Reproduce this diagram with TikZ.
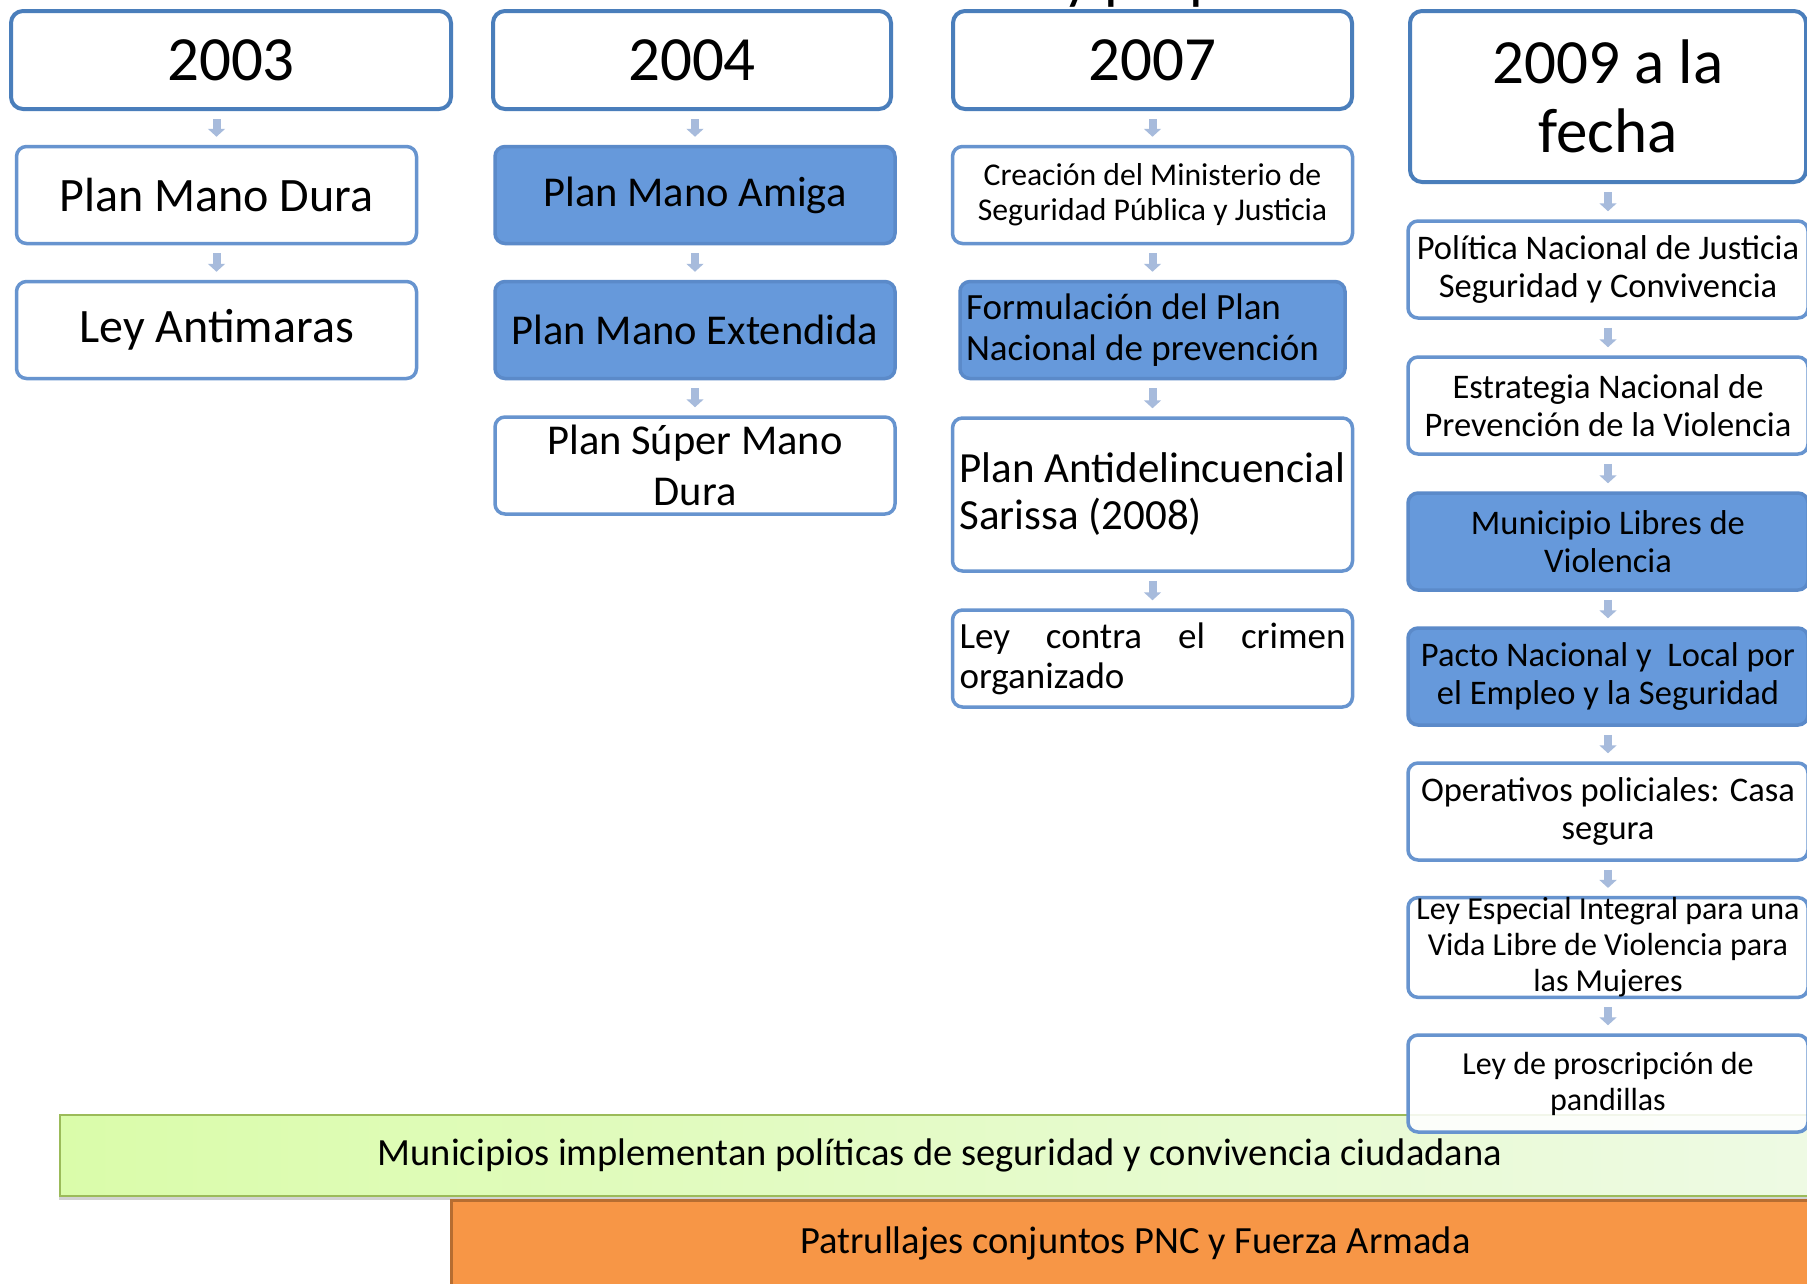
\documentclass[tikz,border=0pt]{standalone}
\usepackage{fontspec}
\setmainfont{Carlito}
\usetikzlibrary{arrows.meta,shadows}
\definecolor{anioborde}{HTML}{4A7EBB}
\definecolor{cajaborde}{HTML}{6794CF}
\definecolor{azul}{HTML}{6699DB}
\definecolor{azulborde}{HTML}{5B8AC9}
\definecolor{flechagris}{HTML}{A7BBDC}
\definecolor{verdeizq}{HTML}{DAFCAA}
\definecolor{verdeder}{HTML}{EEFAE4}
\definecolor{verdeborde}{HTML}{9BBB59}
\definecolor{naranja}{HTML}{F79646}
\definecolor{naranjaborde}{HTML}{B66D31}
\newcommand{\tam}[2]{\fontsize{#1}{#2}\selectfont}
\tikzset{
	anio/.style={draw=anioborde, line width=4pt, rounded corners=12pt, fill=white, align=center, inner sep=0pt, font=\tam{63}{69}},
	caja/.style={draw=cajaborde, line width=3.5pt, rounded corners=10pt, fill=white, align=center, inner sep=0pt, minimum width=400pt, minimum height=97pt},
	cajaazul/.style={caja, fill=azul, draw=azulborde},
	flecha/.style={draw=flechagris, line width=8pt, -{Triangle[width=17pt,length=8pt]}, shorten <=8pt, shorten >=8pt},
}

\begin{document}
\begin{tikzpicture}[x=1pt,y=-1pt]
	%%%%% START %%%%%
	\useasboundingbox (0,0) rectangle (1807,1283);
	\fill[white] (0,0) rectangle (1807,1283);
	
	% titulo cortado arriba
	\node[anchor=base west, inner sep=0pt, font=\tam{61}{61}] (titulo) at (1063,-3) {y prop};
	
	% barras de abajo
	\node[draw=verdeborde, line width=2pt, left color=verdeizq, right color=verdeder, minimum width=1760pt, minimum height=81pt, anchor=north west, font=\tam{38.5}{42}, drop shadow={shadow xshift=-1pt, shadow yshift=-4pt, opacity=0.35}] (municipios) at (59,1114) {Municipios implementan políticas de seguridad y convivencia ciudadana};
	\node[draw=naranjaborde, line width=3pt, fill=naranja, minimum width=1368pt, minimum height=86pt, anchor=north west, font=\tam{38.5}{42}] (patrullajes) at (450,1199) {Patrullajes conjuntos PNC y Fuerza Armada};
	
	% 2003
	\node[anio, minimum width=440pt, minimum height=98pt] (anio03) at (231,60) {2003};
	\node[caja, font=\tam{48}{52}] (dura) at (216.5,195) {Plan Mano Dura};
	\node[caja, font=\tam{48}{52}] (antimaras) at (216.5,330) {Ley Antimaras};
	
	% 2004
	\node[anio, minimum width=398pt, minimum height=98pt] (anio04) at (692,60) {2004};
	\node[cajaazul, font=\tam{42.5}{48}] (amiga) at (695,195) {Plan Mano Amiga};
	\node[cajaazul, font=\tam{42.5}{48}] (extendida) at (695,330) {Plan Mano Extendida};
	\node[caja, font=\tam{42.5}{51}] (superdura) at (695,465.5) {Plan Súper Mano\\Dura};
	
	% 2007
	\node[anio, minimum width=399pt, minimum height=98pt] (anio07) at (1152.5,60) {2007};
	\node[caja, font=\tam{31.7}{35}] (ministerio) at (1152.5,195) {Creación del Ministerio de\\Seguridad Pública y Justicia};
	\node[cajaazul, minimum width=385pt, align=flush left, text width=373pt, font=\tam{37}{41}] (formulacion) at (1152.5,330) {Formulación del Plan\\Nacional de prevención};
	\node[caja, minimum height=153pt, align=flush left, text width=386pt, font=\tam{43}{47}] (sarissa) at (1152.5,494.5) {Plan Antidelincuencial\\Sarissa (2008)};
	\node[caja, align=flush left, text width=386pt, font=\tam{37}{40}] (crimen) at (1152.5,658.5) {\makebox[386pt][s]{Ley contra el crimen}\\organizado};
	
	% 2009 a la fecha
	\node[anio, minimum width=396pt, minimum height=171pt] (anio09) at (1608,96.5) {2009 a la\\fecha};
	\node[caja, font=\tam{34.5}{38}] (politica) at (1608,269.5) {Política Nacional de Justicia\\Seguridad y Convivencia};
	\node[caja, font=\tam{34.5}{38}] (estrategia) at (1608,405.5) {Estrategia Nacional de\\Prevención de la Violencia};
	\node[cajaazul, font=\tam{34.5}{38}] (municipio) at (1608,541.5) {Municipio Libres de\\Violencia};
	\node[cajaazul, font=\tam{34.5}{38}] (pacto) at (1608,676.5) {Pacto Nacional y\ \ Local por\\el Empleo y la Seguridad};
	\node[caja, font=\tam{34.5}{38}] (operativos) at (1608,811.5) {Operativos policiales: Casa\\segura};
	\node[caja, font=\tam{32}{36}] (mujeres) at (1608,947.5) {Ley Especial Integral para una\\Vida Libre de Violencia para\\las Mujeres};
	\node[caja, fill opacity=0.88, text opacity=1, font=\tam{32}{36}] (pandillas) at (1608,1083.5) {Ley de proscripción de\\pandillas};
	
	% flechas
	\foreach \a/\b in {anio03/dura, dura/antimaras, anio04/amiga, amiga/extendida, extendida/superdura, anio07/ministerio, ministerio/formulacion, formulacion/sarissa, sarissa/crimen, anio09/politica, politica/estrategia, estrategia/municipio, municipio/pacto, pacto/operativos, operativos/mujeres, mujeres/pandillas}
		\draw[flecha] (\b.north |- \a.south) -- (\b.north);
	%%%%% END %%%%%
\end{tikzpicture}
\end{document}
